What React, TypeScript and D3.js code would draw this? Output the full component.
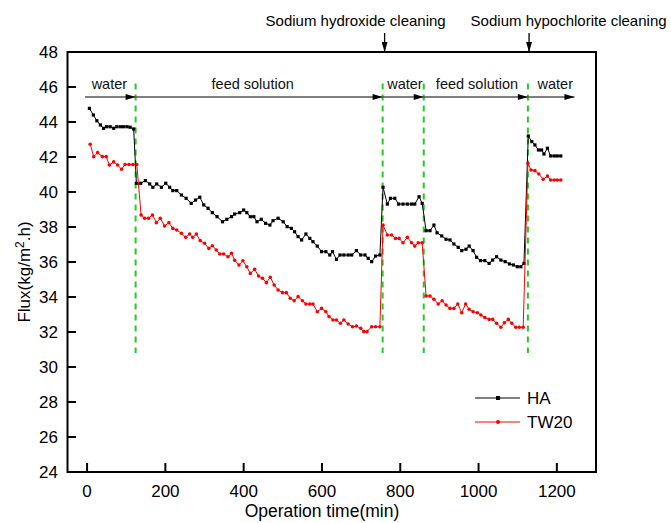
import React from "react";
import * as d3 from "d3";

const haTime = [6,16,25,34,42,50,59,68,76,85,93,102,110,119,126,137,149,160,168,178,190,201,211,219,229,241,253,266,277,288,298,309,320,332,346,357,369,377,390,400,408,417,426,434,445,456,467,475,488,501,511,522,530,539,548,559,569,577,588,599,610,620,627,637,646,656,667,676,688,699,710,718,727,737,748,756,767,775,786,796,807,818,829,837,848,856,866,876,886,894,906,917,927,937,948,957,968,976,986,995,1005,1016,1027,1036,1046,1057,1068,1079,1089,1099,1108,1116,1127,1136,1144,1153,1161,1167,1176,1184,1193,1201,1210];
const haFlux = [44.78,44.4,44.07,43.83,43.64,43.73,43.73,43.64,43.73,43.73,43.73,43.73,43.7,43.6,40.5,40.5,40.65,40.46,40.27,40.46,40.27,40.5,40.27,40.08,40.08,39.83,39.64,39.35,39.54,39.7,39.26,39.07,38.82,38.59,38.3,38.44,38.59,38.74,38.82,38.97,38.82,38.59,38.59,38.3,38.44,38.21,38.11,38.36,38.5,38.3,38.02,37.92,37.73,37.45,37.26,37.6,37.35,37.16,36.91,36.59,36.59,36.4,36.59,36.15,36.4,36.4,36.4,36.4,36.65,36.4,36.4,36.21,36.02,36.34,36.4,40.27,39.31,39.64,39.64,39.31,39.31,39.31,39.31,39.31,39.73,39.35,37.79,37.79,38.11,37.67,37.49,37.3,37.26,37.03,36.84,36.65,36.73,36.91,36.65,36.27,36.08,36.08,35.92,36.11,36.3,36.11,36.02,35.89,35.83,35.73,35.73,35.92,43.2,42.88,42.69,42.4,42.4,42.17,42.5,42.06,42.06,42.06,42.06];

const twTime = [8,17,27,39,49,57,68,78,88,97,107,117,127,138,147,157,167,177,187,198,209,219,229,241,252,262,270,279,289,300,311,320,330,339,349,360,369,377,388,398,408,417,428,438,448,458,468,478,488,499,509,519,529,539,550,559,569,577,588,599,610,618,628,637,647,656,667,678,688,699,707,715,727,737,748,756,767,778,788,797,807,818,829,837,846,856,866,876,886,897,907,917,927,937,947,957,967,976,986,997,1006,1016,1027,1036,1046,1057,1066,1076,1085,1095,1104,1114,1126,1134,1144,1154,1165,1176,1184,1193,1201,1210];
const twFlux = [42.73,42.02,42.25,42.02,42.02,41.54,41.72,41.54,41.3,41.57,41.57,41.57,41.57,38.69,38.5,38.5,38.69,38.25,38.5,38.06,38.25,37.92,37.83,37.64,37.41,37.6,37.41,37.6,37.22,37.07,36.78,36.93,36.69,36.46,36.46,36.3,36.5,36.1,35.83,36.07,35.73,35.35,35.58,35.2,35.07,34.82,35.13,34.69,34.4,34.25,34.25,33.93,33.79,34.02,33.79,33.6,33.6,33.6,33.16,33.35,33.16,32.88,32.69,32.69,32.5,32.69,32.46,32.3,32.34,32.21,32.02,32.02,32.3,32.3,32.3,38.11,37.54,37.54,37.35,37.35,37.1,37.41,37.1,36.91,37.1,37.1,34.06,34.06,33.87,33.6,33.79,33.54,33.35,33.35,33.6,33.1,33.6,33.3,33.16,33.1,32.97,32.83,32.72,32.72,32.5,32.27,32.53,32.72,32.5,32.27,32.27,32.27,41.64,41.26,41.22,41.03,40.73,40.91,40.69,40.69,40.69,40.69];

const xTicks = [0, 200, 400, 600, 800, 1000, 1200];
const yTicks = [24, 26, 28, 30, 32, 34, 36, 38, 40, 42, 44, 46, 48];

const stageBounds = [124, 755, 860, 1126];
const stageArrowEnds = [-5, 124, 755, 860, 1126, 1245];
const stageLabels = ["water", "feed solution", "water", "feed solution", "water"];
const stageLabelCenters = [57, 423, 812, 996, 1196];

const cleaningLabels = ["Sodium hydroxide cleaning", "Sodium hypochlorite cleaning"];
const cleaningArrowTimes = [760, 1129];
const cleaningLabelCenters = [686, 1230];

const seriesNames = ["HA", "TW20"];

const W = 671, H = 523;
const FONT = "'Liberation Sans', Arial, sans-serif";

export default function App() {
  const x = d3.scaleLinear().domain([-50, 1300]).range([67.5, 596]);
  const y = d3.scaleLinear().domain([24, 48]).range([472, 52]);

  const ha = haTime.map((t, i) => [t, haFlux[i]] as [number, number]);
  const tw = twTime.map((t, i) => [t, twFlux[i]] as [number, number]);
  const line = d3.line<[number, number]>().x(d => x(d[0])).y(d => y(d[1]));

  const arrowY = y(45.43);

  return (
    <svg width={W} height={H} style={{ position: "absolute", left: 0, top: 0, background: "#fff" }} fontFamily={FONT}>
      <defs>
        <marker id="ah" viewBox="0 0 10 6" refX="10" refY="3" markerWidth="12" markerHeight="6" markerUnits="userSpaceOnUse" orient="auto">
          <path d="M0,0 L10,3 L0,6 Z" fill="#000" />
        </marker>
      </defs>

      {stageBounds.map((t, i) => (
        <line key={"g" + i} x1={x(t)} x2={x(t)} y1={y(46.2)} y2={y(30.8)} stroke="#22cc22" strokeWidth={2} strokeDasharray="6,5" />
      ))}

      {stageLabels.map((s, i) => (
        <line key={"a" + i} x1={x(stageArrowEnds[i])} x2={x(stageArrowEnds[i + 1])} y1={arrowY} y2={arrowY} stroke="#555" strokeWidth={1.6} markerEnd="url(#ah)" />
      ))}
      {stageLabels.map((s, i) => (
        <text key={"s" + i} x={x(stageLabelCenters[i])} y={89} textAnchor="middle" fontSize={14.5} fill="#111">{s}</text>
      ))}

      <path d={line(ha) || ""} fill="none" stroke="#000" strokeWidth={1} />
      {ha.map((d, i) => (
        <rect key={"hm" + i} x={x(d[0]) - 1.6} y={y(d[1]) - 1.6} width={3.2} height={3.2} fill="#000" />
      ))}
      <path d={line(tw) || ""} fill="none" stroke="#ff0000" strokeWidth={1} />
      {tw.map((d, i) => (
        <circle key={"tm" + i} cx={x(d[0])} cy={y(d[1])} r={1.8} fill="#ff0000" />
      ))}

      <rect x={67.5} y={52} width={528.5} height={420} fill="none" stroke="#000" strokeWidth={2} />

      {yTicks.map(v => (
        <g key={"y" + v}>
          <line x1={67.5} x2={76} y1={y(v)} y2={y(v)} stroke="#000" strokeWidth={2} />
          <text x={58} y={y(v) + 6} textAnchor="end" fontSize={17} fill="#000">{v}</text>
        </g>
      ))}
      {xTicks.map(v => (
        <g key={"x" + v}>
          <line x1={x(v)} x2={x(v)} y1={472} y2={463} stroke="#000" strokeWidth={2} />
          <text x={x(v)} y={497} textAnchor="middle" fontSize={17} fill="#000">{v}</text>
        </g>
      ))}

      <text x={x(600)} y={517} textAnchor="middle" fontSize={17.5} fill="#000">Operation time(min)</text>
      <text transform={`translate(30,${272}) rotate(-90)`} textAnchor="middle" fontSize={17} fill="#000">
        Flux(kg/m<tspan dy={-6} fontSize={12}>2</tspan><tspan dy={6}>.h)</tspan>
      </text>

      {cleaningLabels.map((s, i) => (
        <g key={"c" + i}>
          <text x={x(cleaningLabelCenters[i])} y={26} textAnchor="middle" fontSize={15} fill="#000">{s}</text>
          <line x1={x(cleaningArrowTimes[i])} x2={x(cleaningArrowTimes[i])} y1={33} y2={52} stroke="#000" strokeWidth={1.3} markerEnd="url(#ah)" />
        </g>
      ))}

      <line x1={475} x2={520} y1={398} y2={398} stroke="#555" strokeWidth={1.5} />
      <rect x={496} y={396} width={4} height={4} fill="#000" />
      <text x={527} y={404} fontSize={17} fill="#000">{seriesNames[0]}</text>
      <line x1={475} x2={520} y1={422} y2={422} stroke="#ff0000" strokeWidth={1} />
      <circle cx={498} cy={422} r={2} fill="#ff0000" />
      <text x={527} y={428} fontSize={17} fill="#000">{seriesNames[1]}</text>
    </svg>
  );
}
